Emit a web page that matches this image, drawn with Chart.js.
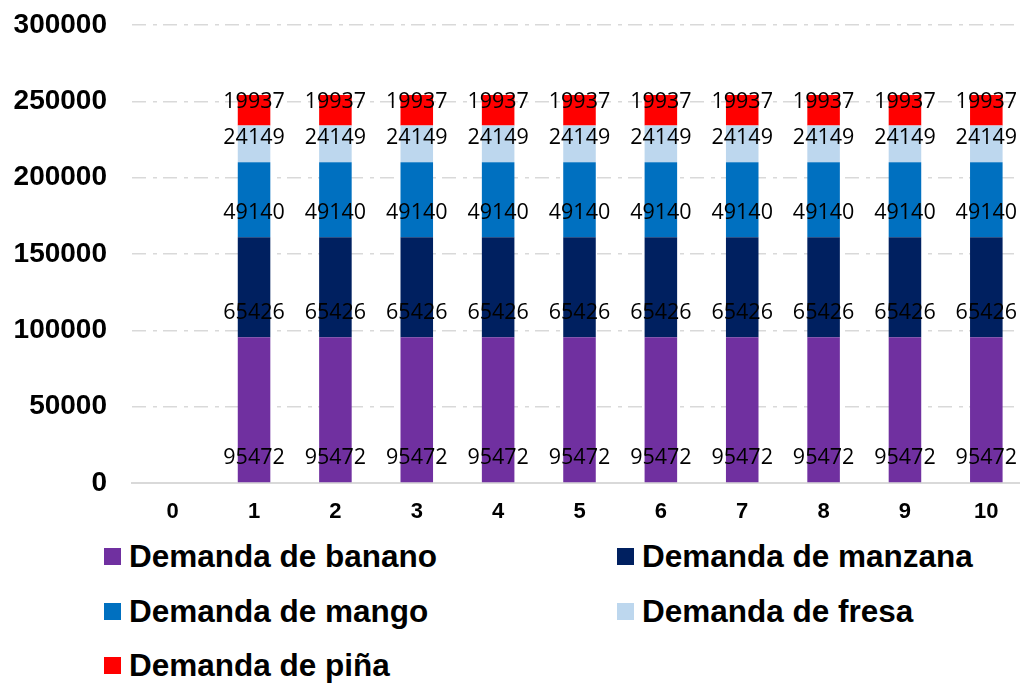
<!DOCTYPE html>
<html>
<head>
<meta charset="utf-8">
<script src="https://cdn.jsdelivr.net/npm/chart.js@4"></script>
<style>
  html, body { margin: 0; padding: 0; background: #fff; overflow: hidden; }
  #wrap { position: relative; width: 1030px; height: 535px; }
  #legend { position: absolute; left: 0; top: 530px; width: 1020px; font: bold 31.5px "Liberation Sans", Arial, sans-serif; color: #000; }
  .item { position: absolute; display: flex; align-items: center; height: 36px; white-space: nowrap; }
  .box { width: 17px; height: 17px; margin-right: 8px; }
</style>
</head>
<body>
<div id="wrap"><canvas id="chart"></canvas></div>
<div id="legend"></div>
<script>
const categories = ['0', '1', '2', '3', '4', '5', '6', '7', '8', '9', '10'];
const banano  = [null, 95472, 95472, 95472, 95472, 95472, 95472, 95472, 95472, 95472, 95472];
const manzana = [null, 65426, 65426, 65426, 65426, 65426, 65426, 65426, 65426, 65426, 65426];
const mango   = [null, 49140, 49140, 49140, 49140, 49140, 49140, 49140, 49140, 49140, 49140];
const fresa   = [null, 24149, 24149, 24149, 24149, 24149, 24149, 24149, 24149, 24149, 24149];
const pina    = [null, 19937, 19937, 19937, 19937, 19937, 19937, 19937, 19937, 19937, 19937];

const seriesNames = ['Demanda de banano', 'Demanda de manzana', 'Demanda de mango', 'Demanda de fresa', 'Demanda de piña'];
const seriesColors = ['#7030A0', '#002060', '#0070C0', '#BDD7EE', '#FF0000'];
const seriesData = [banano, manzana, mango, fresa, pina];

// labels sit near the base of each segment, like Excel "inside base"
const baseLabels = {
    id: 'baseLabels',
    afterDatasetsDraw(chart) {
        const ctx = chart.ctx;
        ctx.save();
        ctx.font = '21.5px "Open Sans", sans-serif';
        ctx.fillStyle = '#000';
        ctx.textAlign = 'center';
        ctx.textBaseline = 'middle';
        chart.data.datasets.forEach((ds, i) => {
            chart.getDatasetMeta(i).data.forEach((bar, j) => {
                const v = ds.data[j];
                if (v == null) return;
                ctx.fillText(String(v), bar.x, bar.base - 24);
            });
        });
        ctx.restore();
    }
};

const chart = new Chart(document.getElementById('chart'), {
    type: 'bar',
    data: {
        labels: categories,
        datasets: seriesData.map((d, i) => ({
            label: seriesNames[i],
            data: d,
            backgroundColor: seriesColors[i],
            borderWidth: 0,
            categoryPercentage: 1,
            barPercentage: 0.4
        }))
    },
    options: {
        animation: false, responsive: true, maintainAspectRatio: false,
        layout: { padding: { top: 25, right: 3, left: 0, bottom: 0 } },
        plugins: { legend: { display: false }, tooltip: { enabled: false } },
        scales: {
            x: {
                stacked: true,
                grid: { display: false },
                border: { display: true, color: '#d9d9d9', width: 2 },
                ticks: { color: '#000', padding: 8, font: { family: '"Liberation Sans", Arial', size: 22, weight: 'bold' } },
                afterFit(scale) { scale.height = 52; }
            },
            y: {
                stacked: true, min: 0, max: 300000,
                border: { display: false, dash: [14, 7, 4, 6] },
                grid: { color: '#d9d9d9', lineWidth: 1.5, drawTicks: false },
                ticks: {
                    stepSize: 50000, color: '#000', padding: 25,
                    font: { family: '"Liberation Sans", Arial', size: 28, weight: 'bold' },
                    callback: v => String(v)
                },
                afterFit(scale) { scale.width = 132; scale.paddingTop = 0; scale.paddingBottom = 0; }
            }
        }
    },
    plugins: [baseLabels]
});

const legend = document.getElementById('legend');
const legendPos = [[104, 8], [617, 8], [104, 63], [617, 63], [104, 117]];
seriesNames.forEach((name, i) => {
    const it = document.createElement('div');
    it.className = 'item';
    it.style.left = legendPos[i][0] + 'px';
    it.style.top = legendPos[i][1] + 'px';
    it.innerHTML = '<span class="box" style="background:' + seriesColors[i] + '"></span><span>' + name + '</span>';
    legend.appendChild(it);
});
</script>
</body>
</html>
